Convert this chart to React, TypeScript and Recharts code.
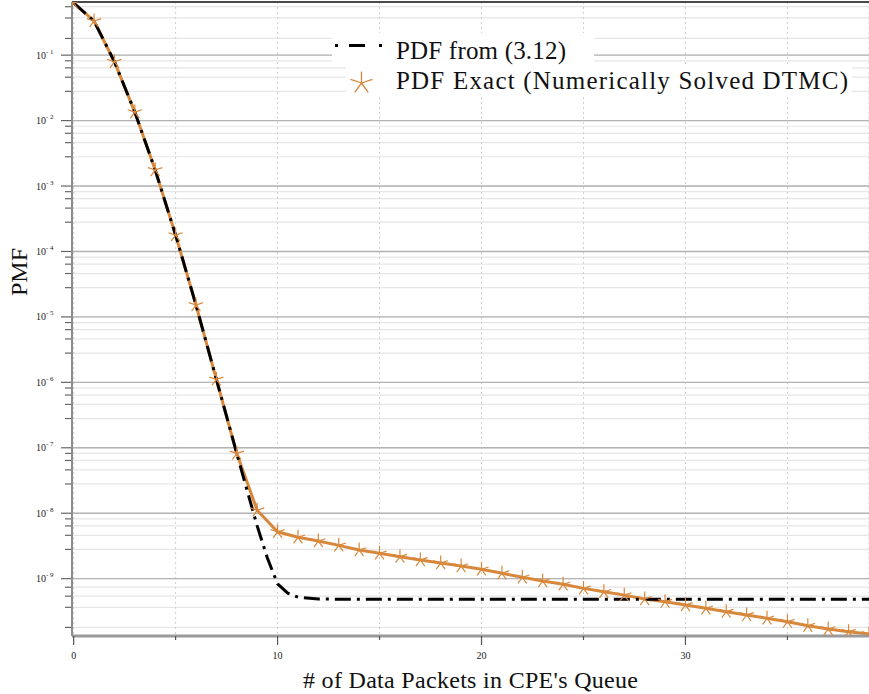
import { CartesianGrid, Line, LineChart, ReferenceLine, XAxis, YAxis } from 'recharts'

// Queue length (packets) and PMF values
const packets = [
  0, 1, 2, 3, 4, 5, 6, 7, 8, 9, 10, 11, 12, 13, 14, 15, 16, 17, 18, 19,
  20, 21, 22, 23, 24, 25, 26, 27, 28, 29, 30, 31, 32, 33, 34, 35, 36, 37, 38, 39,
]
const exactPmf = [
  0.627, 0.333, 0.0794, 0.0135, 1.76e-3, 1.78e-4, 1.52e-5, 1.11e-6, 8.2e-8, 1.11e-8,
  5.2e-9, 4.29e-9, 3.76e-9, 3.23e-9, 2.74e-9, 2.44e-9, 2.17e-9, 1.93e-9, 1.73e-9, 1.56e-9,
  1.39e-9, 1.21e-9, 1.05e-9, 9.2e-10, 8.2e-10, 7.1e-10, 6.3e-10, 5.6e-10, 4.89e-10, 4.45e-10,
  3.96e-10, 3.52e-10, 3.13e-10, 2.79e-10, 2.48e-10, 2.2e-10, 1.91e-10, 1.7e-10, 1.55e-10, 1.43e-10,
]

// (3.12) curve is sampled a bit finer around the knee
const approxX = [
  0, 1, 2, 3, 4, 5, 6, 7, 8, 8.5, 9, 9.5, 10, 10.5, 11, 12, 13, 14, 15, 16, 17, 18, 19,
  20, 21, 22, 23, 24, 25, 26, 27, 28, 29, 30, 31, 32, 33, 34, 35, 36, 37, 38, 39,
]
const approxPmf = [
  0.627, 0.333, 0.0794, 0.0135, 1.76e-3, 1.78e-4, 1.52e-5, 1.11e-6, 8.2e-8, 2.26e-8, 6.4e-9,
  2.07e-9, 8.3e-10, 6.0e-10, 5.2e-10, 4.9e-10, 4.86e-10, 4.85e-10, 4.85e-10, 4.85e-10, 4.85e-10,
  4.85e-10, 4.85e-10, 4.85e-10, 4.85e-10, 4.85e-10, 4.85e-10, 4.85e-10, 4.85e-10, 4.85e-10,
  4.85e-10, 4.85e-10, 4.85e-10, 4.85e-10, 4.85e-10, 4.85e-10, 4.85e-10, 4.85e-10, 4.85e-10,
  4.85e-10, 4.85e-10, 4.85e-10, 4.85e-10,
]

const xTicks = [0, 5, 10, 15, 20, 25, 30, 35]
const decades = [1e-9, 1e-8, 1e-7, 1e-6, 1e-5, 1e-4, 1e-3, 1e-2, 1e-1]
const minorTicks = [
  1.8e-10, 3.65e-10, 5.4e-10, 7.4e-10,
  ...decades.slice(0, 8).flatMap((d) => [2.8 * d, 4.6 * d, 6.4 * d, 8.2 * d]),
  0.18, 0.37, 0.55,
]
const Y_DOMAIN: [number, number] = [1.33e-10, 0.649]

const ORANGE = '#d8883c'
const FONT = "'Liberation Serif', 'Times New Roman', serif"

const exactData = packets.map((n, i) => ({ n, pmf: exactPmf[i] }))
const approxData = approxX.map((n, i) => ({ n, pmf: approxPmf[i] }))

function starPath(cx: number, cy: number, r: number) {
  let d = ''
  for (let k = 0; k < 5; k++) {
    const a = ((-90 + 72 * k) * Math.PI) / 180
    d += `M${cx},${cy}L${cx + r * Math.cos(a)},${cy + r * Math.sin(a)}`
  }
  return d
}

function StarDot(props: any) {
  const { cx, cy, index } = props
  if (cx == null || cy == null) return <g key={index} />
  return <path key={index} d={starPath(cx, cy, 7.5)} stroke={ORANGE} strokeWidth={1.2} fill="none" />
}

function YTick({ x, y, payload }: any) {
  const v = payload.value as number
  const lg = Math.log10(v)
  const exp = Math.round(lg)
  const major = Math.abs(lg - exp) < 1e-6
  if (!major) return <line x1={x - 7} x2={x - 1} y1={y} y2={y} stroke="#666" strokeWidth={1.2} />
  return (
    <g>
      <line x1={x - 11} x2={x - 1} y1={y} y2={y} stroke="#666" strokeWidth={1.2} />
      <text x={x - 36} y={y + 3.5} fontFamily={FONT} fontSize={10} fill="#222">
        10
        <tspan dy={-5} fontSize={7}>
          {exp < 0 ? `- ${-exp}` : `${exp}`}
        </tspan>
      </text>
    </g>
  )
}

function XTick({ x, y, payload }: any) {
  const v = payload.value as number
  const major = v % 10 === 0
  return (
    <g>
      <line x1={x} x2={x} y1={y} y2={y + (major ? 9 : 4)} stroke="#555" strokeWidth={1.2} />
      {major && (
        <text x={x} y={y + 23} textAnchor="middle" fontFamily={FONT} fontSize={10} fill="#222">
          {v}
        </text>
      )}
    </g>
  )
}

function Legend() {
  return (
    <svg width={869} height={694} style={{ position: 'absolute', left: 0, top: 0, pointerEvents: 'none' }}>
      <rect x={332} y={33} width={262} height={31} fill="#fff" />
      <rect x={346} y={66} width={506} height={30} fill="#fff" />
      <line x1={335} x2={383} y1={45.5} y2={45.5} stroke="#000" strokeWidth={3} strokeDasharray="3 11 16 14 3" />
      <text x={396} y={59} fontFamily={FONT} fontSize={25} fill="#111" textLength={170} lengthAdjust="spacing">
        PDF from (3.12)
      </text>
      <path d={starPath(361.5, 83, 11.5)} stroke={ORANGE} strokeWidth={1.3} fill="none" />
      <text x={396} y={88.5} fontFamily={FONT} fontSize={25} fill="#111" textLength={452} lengthAdjust="spacing">
        PDF Exact (Numerically Solved DTMC)
      </text>
    </svg>
  )
}

export default function App() {
  return (
    <div style={{ position: 'relative', width: 869, height: 694, background: '#fff' }}>
      <style>{'body{margin:0}'}</style>
      <LineChart width={869} height={694} margin={{ top: 2, right: 0, bottom: 0, left: 0 }}>
        <CartesianGrid vertical={false} stroke="#e6e6e6" strokeWidth={1.2} />
        <CartesianGrid horizontal={false} stroke="#cfcfcf" strokeDasharray="2 3" />
        {decades.map((d) => (
          <ReferenceLine key={d} y={d} stroke="#b4b4b4" strokeWidth={1.4} />
        ))}
        <ReferenceLine y={Y_DOMAIN[1]} stroke="#4a4a4a" strokeWidth={2} />
        <XAxis
          dataKey="n"
          type="number"
          domain={[-0.08, 39]}
          ticks={xTicks}
          interval={0}
          allowDataOverflow
          height={58}
          tickSize={0}
          tickMargin={0}
          tick={<XTick />}
          axisLine={{ stroke: '#9a9a9a', strokeWidth: 3 }}
          label={{
            content: () => (
              <text
                x={470.5}
                y={688}
                textAnchor="middle"
                fontFamily={FONT}
                fontSize={24}
                fill="#111"
                textLength={335}
                lengthAdjust="spacing"
              >
                # of Data Packets in CPE's Queue
              </text>
            ),
          }}
        />
        <YAxis
          dataKey="pmf"
          scale="log"
          domain={Y_DOMAIN}
          ticks={[...decades, ...minorTicks].sort((a, b) => a - b)}
          interval={0}
          allowDataOverflow
          width={72}
          tickSize={0}
          tickMargin={0}
          tick={<YTick />}
          axisLine={{ stroke: '#8c8c8c', strokeWidth: 2 }}
          label={{
            content: () => (
              <text
                x={27}
                y={272}
                textAnchor="middle"
                transform="rotate(-90 27 272)"
                fontFamily={FONT}
                fontSize={24}
                fill="#111"
              >
                PMF
              </text>
            ),
          }}
        />
        <Line
          data={exactData}
          dataKey="pmf"
          stroke={ORANGE}
          strokeWidth={3}
          dot={<StarDot />}
          activeDot={false}
          isAnimationActive={false}
        />
        <Line
          data={approxData}
          dataKey="pmf"
          stroke="#000"
          strokeWidth={3}
          strokeDasharray="16 6 3 6"
          dot={false}
          activeDot={false}
          isAnimationActive={false}
        />
      </LineChart>
      <Legend />
    </div>
  )
}
